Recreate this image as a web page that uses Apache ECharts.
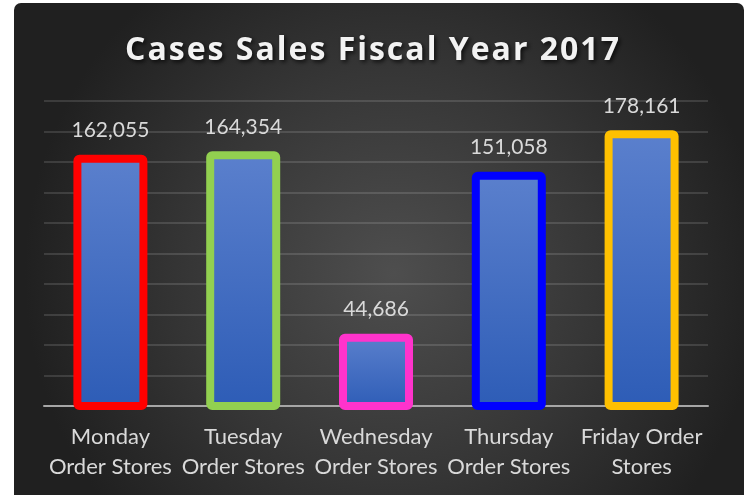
<!DOCTYPE html>
<html>
<head>
<meta charset="utf-8">
<style>
  html, body { margin: 0; padding: 0; background: #ffffff; }
  #chart { width: 744px; height: 495px; }
</style>
<script src="https://cdn.jsdelivr.net/npm/echarts@6/dist/echarts.min.js"></script>
</head>
<body>
<div id="chart"></div>
<script>
// Weekly order-store case sales, fiscal year 2017
const categories = [
  'Monday\nOrder Stores',
  'Tuesday\nOrder Stores',
  'Wednesday\nOrder Stores',
  'Thursday\nOrder Stores',
  'Friday Order\nStores'
];
const caseSales = [162055, 164354, 44686, 151058, 178161];
const borderColors = ['#ff0000', '#92d050', '#ff33cc', '#0000ff', '#ffc000'];
const titleText = 'Cases Sales Fiscal Year 2017';

const chart = echarts.init(document.getElementById('chart'), null, { renderer: 'canvas' });

const BAR_WIDTH = 66;
const BORDER_WIDTH = 8;

const barFill = {
  type: 'linear', x: 0, y: 0, x2: 0, y2: 1,
  colorStops: [
    { offset: 0, color: '#5b80cd' },
    { offset: 1, color: '#2d5cb6' }
  ]
};

// Each letter becomes its own rich-text token so the heading can be tracked out.
const spacedTitle = titleText.split('').map(ch => '{c|' + ch + '}').join('');

// Bars with an outline stroked on the bar edge (half inside, half outside).
function renderBar(params, api) {
  const idx = params.dataIndex;
  const top = api.coord([api.value(0), api.value(1)]);
  const base = api.coord([api.value(0), 0]);
  return {
    type: 'rect',
    shape: {
      x: top[0] - BAR_WIDTH / 2,
      y: top[1],
      width: BAR_WIDTH,
      height: base[1] - top[1],
      r: 2
    },
    style: {
      fill: barFill,
      stroke: borderColors[idx],
      lineWidth: BORDER_WIDTH
    },
    textContent: {
      style: {
        text: api.value(1).toLocaleString('en-US'),
        fill: '#d9d9d9',
        font: '21px Lato'
      }
    },
    textConfig: { position: 'top', distance: 14 }
  };
}

chart.setOption({
  animation: false,
  graphic: [{
    type: 'rect',
    z: -10,
    silent: true,
    shape: { x: 14, y: 3, width: 730, height: 492, r: [7, 7, 0, 0] },
    style: {
      fill: new echarts.graphic.RadialGradient(0.52, 0.55, 0.75, [
        { offset: 0, color: '#4e4e4e' },
        { offset: 0.55, color: '#363636' },
        { offset: 1, color: '#202020' }
      ])
    }
  }],
  title: {
    text: spacedTitle,
    left: 'center',
    top: 30,
    textStyle: {
      rich: {
        c: {
          color: '#f2f2f2',
          fontFamily: 'Open Sans',
          fontWeight: 'bold',
          fontSize: 32,
          padding: [0, 1, 0, 1],
          textShadowColor: 'rgba(0,0,0,0.75)',
          textShadowBlur: 4,
          textShadowOffsetX: 2,
          textShadowOffsetY: 2
        }
      }
    }
  },
  grid: { left: 44, right: 36, top: 101, bottom: 89 },
  xAxis: {
    type: 'category',
    data: categories,
    axisLine: { lineStyle: { color: '#a6a6a6', width: 2 } },
    axisTick: { show: false },
    axisLabel: {
      color: '#d9d9d9',
      fontFamily: 'Lato',
      fontSize: 22,
      lineHeight: 30,
      margin: 16,
      interval: 0
    }
  },
  yAxis: {
    type: 'value',
    min: 0,
    max: 200000,
    interval: 20000,
    axisLabel: { show: false },
    axisLine: { show: false },
    axisTick: { show: false },
    splitLine: { lineStyle: { color: 'rgba(255,255,255,0.13)', width: 2 } }
  },
  series: [{
    type: 'custom',
    renderItem: renderBar,
    encode: { x: 0, y: 1 },
    data: caseSales.map((v, i) => [i, v]),
    z: 3
  }]
});
</script>
</body>
</html>
